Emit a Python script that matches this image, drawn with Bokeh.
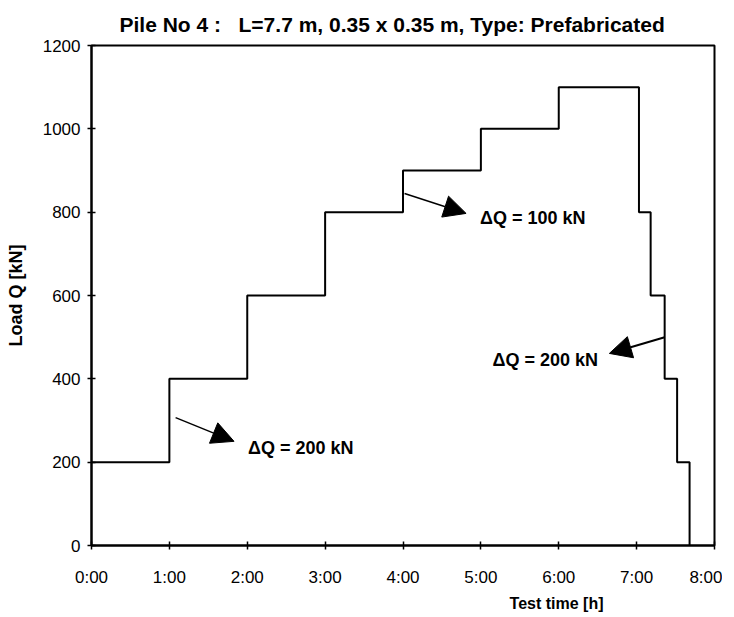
from bokeh.plotting import figure
from bokeh.models import Range1d, FixedTicker, Arrow, NormalHead, Label, Title
from bokeh.embed import file_html
from bokeh.resources import INLINE

# ---- data ----
step_times = [0, 1, 2, 3, 4, 5, 6, 7.03, 7.18, 7.36, 7.52, 7.68]   # hours
step_loads = [200, 400, 600, 800, 900, 1000, 1100, 800, 600, 400, 200, 0]  # kN

x_ticks = [0, 1, 2, 3, 4, 5, 6, 7, 8]
x_tick_labels = ["0:00", "1:00", "2:00", "3:00", "4:00", "5:00", "6:00", "7:00", "8:00"]
y_ticks = [0, 200, 400, 600, 800, 1000, 1200]

arrow_x_start = [1.08, 4.02, 7.36]
arrow_y_start = [307, 845, 500]
arrow_x_end = [1.83, 4.81, 6.65]
arrow_y_end = [250, 797, 461]

note_texts = ["\u0394Q = 200 kN", "\u0394Q = 100 kN", "\u0394Q = 200 kN"]
note_x = [2.01, 4.99, 5.15]
note_y = [235, 787, 446]

title_text = "Pile No 4 :\u00a0\u00a0\u00a0L=7.7 m, 0.35 x 0.35 m, Type: Prefabricated"
x_label_text = "Test time [h]"
y_label_text = "Load Q [kN]"

FONT = "Liberation Sans"

p = figure(frame_width=623, frame_height=500, output_backend="svg", toolbar_location=None,
           x_range=Range1d(0, 8), y_range=Range1d(0, 1200),
           min_border_left=91, min_border_right=8, min_border_top=45, min_border_bottom=58)

p.title.text = title_text
p.title.text_font = FONT
p.title.text_font_size = "21px"
p.title.text_font_style = "bold"
p.title.align = "left"
p.title.offset = 28
p.title.standoff = 20
p.title.text_color = "black"

p.xgrid.visible = False
p.ygrid.visible = False
p.outline_line_color = "black"
p.outline_line_width = 2
p.outline_line_alpha = 1

for ax in (p.xaxis[0], p.yaxis[0]):
    ax.axis_line_width = 2
    ax.axis_line_color = "black"
    ax.major_tick_line_width = 1.5
    ax.major_tick_line_color = "black"
    ax.major_tick_in = 4
    ax.major_tick_out = 4
    ax.minor_tick_line_color = None
    ax.major_label_text_font = FONT
    ax.major_label_text_font_size = "17px"
    ax.major_label_text_color = "black"

p.xaxis.ticker = FixedTicker(ticks=x_ticks)
p.xaxis.major_label_overrides = {t: l for t, l in zip(x_ticks, x_tick_labels)}
p.xaxis.major_label_standoff = 18

p.yaxis.ticker = FixedTicker(ticks=y_ticks)
p.yaxis.major_label_standoff = 7
p.yaxis.axis_label = y_label_text
p.yaxis.axis_label_text_font = FONT
p.yaxis.axis_label_text_font_size = "18px"
p.yaxis.axis_label_text_font_style = "bold"
p.yaxis.axis_label_standoff = 14
p.yaxis.axis_label_text_color = "black"

xt = Title(text=x_label_text, align="right", offset=111, standoff=6, text_font=FONT,
           text_font_size="16px", text_font_style="bold", text_color="black")
p.add_layout(xt, "below")

p.step(step_times, step_loads, mode="after", line_color="black", line_width=2)

widths = [1.5, 1.5, 2]
for xs, ys, xe, ye, w in zip(arrow_x_start, arrow_y_start, arrow_x_end, arrow_y_end, widths):
    p.add_layout(Arrow(x_start=xs, y_start=ys, x_end=xe, y_end=ye,
                       line_color="black", line_width=w,
                       end=NormalHead(size=22, fill_color="black", line_color="black")))

for t, x, y in zip(note_texts, note_x, note_y):
    p.add_layout(Label(x=x, y=y, text=t, text_font=FONT, text_font_size="18px",
                       text_font_style="bold", text_baseline="middle", text_align="left",
                       text_color="black"))

open("out.html", "w").write(file_html(p, INLINE))
